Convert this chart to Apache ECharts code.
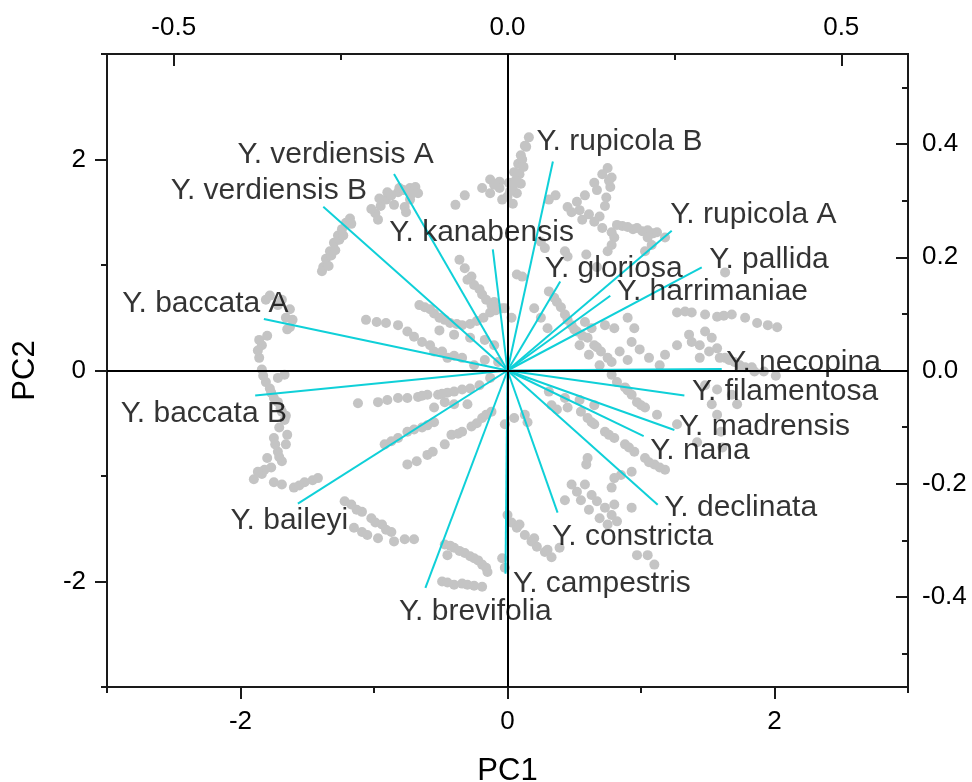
<!DOCTYPE html>
<html>
<head>
<meta charset="utf-8">
<script src="https://cdn.jsdelivr.net/npm/echarts@6/dist/echarts.min.js"></script>
<style>
html,body{margin:0;padding:0;background:#fff;overflow:hidden;}
#chart{position:absolute;left:0;top:0;width:972px;height:782px;}
</style>
</head>
<body>
<div id="chart"></div>
<script>
// ---- data ----
const pc1Labels = [-2, 0, 2];
const pc1Minor = [-3, -1, 1, 3];
const pc2Labels = [-2, 0, 2];
const pc2Minor = [-3, -1, 1, 3];
const topLabels = [-0.5, 0, 0.5];
const topMinor = [-0.25, 0.25];
const rightLabels = [-0.4, -0.2, 0, 0.2, 0.4];
const rightMinor = [-0.5, -0.3, -0.1, 0.1, 0.3, 0.5];

// PCA scores [PC1, PC2]
const scores = [
 [-1.38,0.98],[-1.36,1.06],[-1.33,1.13],[-1.30,1.21],[-1.27,1.28],[-1.24,1.34],[-1.21,1.40],[-1.18,1.44],[-1.32,1.09],[-1.26,1.24],
 [-1.39,0.94],[-1.29,1.14],[-1.23,1.28],[-1.17,1.39],[-1.34,0.99],
 [-0.99,1.49],[-0.95,1.56],[-0.91,1.62],[-0.87,1.66],[-0.82,1.69],[-0.78,1.71],[-0.73,1.73],[-0.69,1.74],[-0.97,1.43],[-0.77,1.55],[-0.73,1.62],[-0.85,1.57],
 [-0.96,1.63],[-0.90,1.69],[-0.81,1.73],[-0.72,1.67],[-0.67,1.68],[-1.02,1.53],[-0.76,1.50],
 [-0.39,1.57],[-0.32,1.66],[-0.19,1.73],[-0.10,1.76],[-0.13,1.68],[-0.13,1.81],[-0.06,1.79],
 [0.16,2.21],[0.13,2.13],[0.10,2.04],[0.08,1.96],[0.09,1.86],[0.10,1.77],[0.07,1.68],[0.04,1.58],[0.01,1.78],[0.05,1.88],[0.00,1.65],[-0.04,1.62],[-0.06,1.73],
 [0.04,1.74],[0.08,1.87],[0.11,2.00],[0.14,2.12],[0.12,1.93],[0.06,1.80],[0.02,1.70],
 [0.75,1.92],[0.78,1.83],[0.77,1.74],[0.65,1.78],[0.58,1.66],[0.52,1.60],[0.45,1.55],[0.54,1.52],[0.61,1.48],[0.69,1.46],[0.73,1.56],[0.74,1.64],[0.67,1.71],
 [0.71,1.86],[0.76,1.80],
 [0.31,1.62],[0.36,1.66],[0.59,1.10],[0.67,0.98],
 [0.48,1.50],[0.56,1.43],[0.65,1.41],[0.71,1.35],[0.78,1.31],[0.86,1.37],[0.94,1.34],[1.01,1.32],[1.09,1.30],
 [0.82,1.38],[0.90,1.36],[0.97,1.35],[1.05,1.33],[1.12,1.31],[1.18,1.26],[0.80,1.26],[0.78,1.19],[0.75,1.13],[1.05,1.26],[1.08,1.19],[1.03,1.13],
 [0.43,1.13],[0.45,1.08],[0.25,1.22],[0.28,1.16],[0.07,0.91],[0.11,0.89],[1.63,0.93],
 [1.27,0.55],[1.38,0.55],[1.48,0.53],[1.57,0.51],[1.68,0.53],[1.78,0.50],[1.87,0.45],[2.02,0.41],[1.33,0.56],[1.62,0.52],[1.95,0.43],
 [0.35,0.69],[0.40,0.60],[0.43,0.53],[0.48,0.43],[0.52,0.37],[0.60,0.31],[0.65,0.24],[0.70,0.18],[0.75,0.12],
 [0.31,0.75],[0.37,0.65],[0.45,0.48],[0.50,0.39],[0.56,0.33],[0.67,0.22],[0.78,0.08],[0.54,0.24],[0.61,0.15],[0.69,0.05],
 [0.84,0.18],[0.90,0.10],[0.99,0.20],[1.06,0.12],[1.14,0.05],
 [0.20,0.59],[0.25,0.50],[0.30,0.40],[0.58,0.46],[0.63,0.40],[0.73,0.43],[0.80,0.40],[0.90,0.50],[0.95,0.40],[0.93,0.27],
 [1.18,0.15],[1.27,0.24],[1.38,0.27],[1.48,0.37],[1.53,0.31],[1.57,0.21],[1.63,0.12],[-0.02,0.59],[0.03,0.50],
 [1.70,0.08],[1.78,0.03],[1.85,-0.01],[1.44,0.12],
 [1.36,0.34],[1.44,0.24],[1.51,0.18],[1.59,0.12],[1.66,0.10],[1.74,0.05],[1.83,0.03],[1.92,-0.01],[2.01,-0.05],
 [-0.66,0.62],[-0.58,0.58],[-0.51,0.50],[-0.43,0.45],[-0.34,0.43],[-0.23,0.47],[-0.13,0.55],[-0.04,0.59],
 [-0.62,0.60],[-0.55,0.54],[-0.47,0.48],[-0.38,0.44],[-0.28,0.44],[-0.18,0.50],[-0.09,0.57],
 [-1.06,0.48],[-0.98,0.46],[-0.82,0.43],[-0.75,0.37],[-0.64,0.27],[-0.55,0.18],[-0.45,0.12],[-0.34,0.12],[-0.25,0.05],
 [-0.91,0.45],[-0.70,0.32],
 [-0.51,0.38],[-0.40,0.34],[-0.28,0.31],[-0.17,0.29],[-0.10,0.24],[-0.58,0.24],[-0.49,0.18],[-0.40,0.14],[-0.17,0.10],[-0.07,0.08],
 [-0.36,1.05],[-0.27,0.89],[-0.25,0.81],[-0.21,0.77],[-0.16,0.67],[-0.10,0.65],[-0.08,0.58],
 [-0.32,0.97],[-0.30,0.86],[-0.19,0.72],[-0.12,0.62],
 [-1.78,0.71],[-1.69,0.67],[-1.63,0.58],[-1.61,0.48],[-1.65,0.39],[-1.84,0.24],[-1.86,0.12],[-1.84,0.01],[-1.81,-0.11],[-1.77,-0.21],
 [-1.81,0.67],[-1.72,0.62],[-1.66,0.50],[-1.63,0.41],[-1.80,0.33],[-1.86,0.29],
 [-1.72,-0.30],[-1.69,-0.39],[-1.67,-0.47],[-1.71,-0.54],[-1.67,-0.04],[-1.72,-0.07],
 [-1.87,0.19],[-1.83,-0.05],[-1.78,-0.17],[-1.75,-0.26],[-1.70,-0.36],[-1.66,-0.43],
 [-1.75,-0.64],[-1.72,-0.77],[-1.69,-0.86],[-1.77,-0.92],[-1.84,-0.98],[-1.90,-1.03],[-1.69,-1.08],[-1.60,-1.11],[-1.52,-1.06],[-1.46,-1.04],[-1.65,-0.61],[-1.66,-0.70],
 [-1.74,-0.70],[-1.71,-0.82],[-1.82,-0.94],[-1.80,-0.83],[-1.87,-0.96],[-1.75,-1.06],[-1.56,-1.09],[-1.42,-1.02],
 [-1.12,-0.31],[-0.97,-0.30],[-0.82,-0.26],[-0.75,-0.26],[-0.67,-0.25],[-0.60,-0.23],[-0.52,-0.23],[-0.45,-0.21],[-0.34,-0.18],
 [-0.90,-0.28],[-0.64,-0.24],[-0.49,-0.22],[-0.40,-0.20],[-0.28,-0.17],[-0.21,-0.14],[-0.13,-0.07],
 [-0.55,-0.35],[-0.47,-0.30],[-0.40,-0.32],[-0.30,-0.32],
 [-0.92,-0.70],[-0.82,-0.64],[-0.75,-0.58],[-0.64,-0.54],[-0.55,-0.49],[-0.42,-0.61],[-0.34,-0.58],[-0.27,-0.53],[-0.19,-0.45],[-0.12,-0.39],
 [-0.87,-0.67],[-0.70,-0.56],[-0.60,-0.52],[-0.37,-0.60],[-0.23,-0.50],[-0.16,-0.42],
 [-0.75,-0.89],[-0.68,-0.86],[-0.60,-0.80],[-0.56,-0.77],[-0.47,-0.70],
 [-1.22,-1.24],[-1.17,-1.27],[-1.09,-1.34],[-1.02,-1.40],[-0.94,-1.46],[-0.87,-1.53],[-1.05,-1.56],[-0.97,-1.59],[-0.85,-1.62],[-0.70,-1.60],
 [-1.13,-1.32],[-0.99,-1.44],[-0.91,-1.51],[-1.15,-1.49],[-1.09,-1.53],[-0.77,-1.60],
 [-0.47,-1.65],[-0.40,-1.68],[-0.32,-1.73],[-0.25,-1.78],[-0.19,-1.84],[-0.15,-1.91],[-0.49,-2.00],[-0.40,-2.03],[-0.30,-2.03],[-0.19,-2.05],[-0.04,-1.78],[-0.02,-1.87],
 [-0.43,-1.66],[-0.36,-1.71],[-0.28,-1.76],[-0.22,-1.80],[-0.16,-1.87],[-0.45,-1.75],[-0.45,-2.01],[-0.34,-2.02],[-0.25,-2.04],
 [0.78,-0.04],[0.82,-0.11],[0.88,-0.16],[0.93,-0.23],[0.97,-0.30],[1.03,-0.35],[0.90,-0.19],[1.00,-0.33],
 [0.55,-0.39],[0.60,-0.45],[0.65,-0.51],[0.73,-0.58],[0.80,-0.64],[0.88,-0.70],[0.95,-0.77],[1.03,-0.83],[1.10,-0.89],[1.18,-0.94],
 [0.63,-0.49],[0.76,-0.61],[0.91,-0.73],[1.06,-0.87],[1.14,-0.92],
 [0.31,-0.20],[0.43,-0.26],[0.54,-0.28],[0.65,-0.33],
 [1.12,-0.42],[1.27,-0.51],[1.42,-0.68],[1.48,-0.14],[1.57,-0.18],[1.68,-0.23],[1.72,-0.32],[1.53,-0.32],[1.57,-0.42],[1.60,-0.58],[1.61,-0.73],
 [0.52,-1.15],[0.58,-1.08],[0.63,-1.18],[0.67,-1.24],[0.73,-1.30],[0.78,-1.37],[0.82,-1.43],[0.60,-0.83],[0.59,-0.89],
 [0.55,-1.23],[0.61,-1.32],[0.69,-1.40],[0.75,-1.46],[0.48,-1.08],[0.43,-1.23],
 [0.78,-1.11],[0.80,-1.02],[0.85,-0.99],[0.93,-0.96],[0.80,-1.27],[0.93,-1.30],[0.97,-1.75],[1.05,-1.75],[1.10,-1.84],
 [0.03,-1.44],[0.07,-1.49],[0.13,-1.56],[0.18,-1.62],[0.22,-1.67],[0.28,-1.72],[0.33,-1.77],
 [0.00,-1.37],[0.09,-1.46],[0.20,-1.59],[0.30,-1.70],[0.39,-1.68],
 [0.13,-0.42],[0.15,-0.49],[0.33,-0.33],[0.37,-0.37],[0.45,-0.35],[-0.02,-0.51],[0.05,-0.45]
];

// loadings (top / right axes)
const species = ['Y. verdiensis A','Y. verdiensis B','Y. kanabensis','Y. baccata A','Y. baccata B','Y. baileyi',
 'Y. brevifolia','Y. campestris','Y. constricta','Y. declinata','Y. nana','Y. madrensis','Y. filamentosa',
 'Y. necopina','Y. harrimaniae','Y. pallida','Y. rupicola A','Y. gloriosa','Y. rupicola B'];
const loadX = [-0.170,-0.276,-0.022,-0.365,-0.378,-0.314,-0.123,-0.003,0.075,0.225,0.204,0.250,0.265,0.321,0.154,0.291,0.246,0.079,0.068];
const loadY = [0.347,0.289,0.214,0.091,-0.044,-0.235,-0.384,-0.359,-0.251,-0.237,-0.116,-0.105,-0.044,0.0025,0.132,0.182,0.247,0.157,0.369];

// label placement (pixel offsets from each arrow tip) – layout only
const labelOffsets = [[-157,-19],[-153,-16],[-104,-17],[-142,-15],[-135,18],[-68,17],[-27,24],[7,10],[-6,24],[6,3],
 [6,15],[4,-3],[7,-4],[4,-6],[6,-4],[7,-8],[-2,-16],[-16,-13],[-17,-20]];

// ---- chart ----
const FONT = 'Arial, "Liberation Sans", Helvetica, sans-serif';
const AX = '#1a1a1a';
const chart = echarts.init(document.getElementById('chart'), null, {renderer:'canvas', width:972, height:782});

function axisBase(extra){
  return Object.assign({
    type:'value', splitLine:{show:false},
    axisLine:{show:true, onZero:false, lineStyle:{color:AX, width:2}},
    axisTick:{show:true, lineStyle:{color:AX, width:2}},
    axisLabel:{show:false, color:'#000', fontFamily:FONT, fontSize:26},
    axisPointer:{show:false}
  }, extra);
}
const fmt1 = v => Number(v).toFixed(1);

const option = {
  backgroundColor:'#fff',
  animation:false,
  grid:{left:107, right:64, top:54, bottom:95, containLabel:false, outerBoundsMode:'none'},
  xAxis:[
    axisBase({position:'bottom', min:-3, max:3,
      axisTick:{show:true, inside:false, length:12, customValues:pc1Labels, lineStyle:{color:AX,width:2}},
      axisLabel:{show:true, customValues:pc1Labels, margin:22, color:'#000', fontFamily:FONT, fontSize:26},
      name:'PC1', nameLocation:'middle', nameGap:69, nameTextStyle:{color:'#000', fontFamily:FONT, fontSize:31}}),
    axisBase({position:'bottom', min:-3, max:3,
      axisTick:{show:true, inside:false, length:6, customValues:pc1Minor, lineStyle:{color:AX,width:2}}}),
    axisBase({position:'top', min:-0.6, max:0.6,
      axisTick:{show:true, inside:true, length:12, customValues:topLabels, lineStyle:{color:AX,width:2}},
      axisLabel:{show:true, customValues:topLabels, margin:13, formatter:fmt1, color:'#000', fontFamily:FONT, fontSize:26}}),
    axisBase({position:'top', min:-0.6, max:0.6,
      axisTick:{show:true, inside:true, length:6, customValues:topMinor, lineStyle:{color:AX,width:2}}})
  ],
  yAxis:[
    axisBase({position:'left', min:-3, max:3,
      axisTick:{show:true, inside:false, length:12, customValues:pc2Labels, lineStyle:{color:AX,width:2}},
      axisLabel:{show:true, customValues:pc2Labels, margin:21, color:'#000', fontFamily:FONT, fontSize:26},
      name:'PC2', nameLocation:'middle', nameGap:66, nameTextStyle:{color:'#000', fontFamily:FONT, fontSize:31}}),
    axisBase({position:'left', min:-3, max:3,
      axisTick:{show:true, inside:false, length:6, customValues:pc2Minor, lineStyle:{color:AX,width:2}}}),
    axisBase({position:'right', min:-0.559, max:0.559,
      axisTick:{show:true, inside:true, length:12, customValues:rightLabels, lineStyle:{color:AX,width:2}},
      axisLabel:{show:true, customValues:rightLabels, margin:14, formatter:fmt1, color:'#000', fontFamily:FONT, fontSize:26}}),
    axisBase({position:'right', min:-0.559, max:0.559,
      axisTick:{show:true, inside:true, length:6, customValues:rightMinor, lineStyle:{color:AX,width:2}}})
  ],
  series:[
    {
      name:'scores', type:'scatter', xAxisIndex:0, yAxisIndex:0, z:2,
      symbol:'circle', symbolSize:10,
      itemStyle:{color:'#c4c4c4', opacity:1},
      data:scores, silent:true
    },
    {
      name:'zero', type:'scatter', xAxisIndex:0, yAxisIndex:0, z:3, data:[], silent:true,
      markLine:{silent:true, symbol:['none','none'], animation:false,
        label:{show:false},
        lineStyle:{color:'#000', width:2, type:'solid'},
        data:[{xAxis:0},{yAxis:0}]}
    },
    {
      name:'loadings', type:'lines', coordinateSystem:'cartesian2d', xAxisIndex:2, yAxisIndex:2, z:4,
      polyline:false, silent:true,
      lineStyle:{color:'#0fd0d8', width:2, opacity:1, curveness:0},
      data: species.map((s,i)=>({coords:[[0,0],[loadX[i],loadY[i]]]}))
    },
    {
      name:'labels', type:'scatter', xAxisIndex:2, yAxisIndex:2, z:5, silent:true,
      symbolSize:1, itemStyle:{color:'rgba(0,0,0,0)'},
      label:{show:true, position:'right', distance:0, color:'#000', fontFamily:FONT, fontSize:30,
        align:'left', verticalAlign:'middle', formatter:p=>p.name},
      data: species.map((s,i)=>({name:s, value:[loadX[i],loadY[i]], label:{offset:labelOffsets[i]}}))
    }
  ]
};
chart.setOption(option);
</script>
</body>
</html>
